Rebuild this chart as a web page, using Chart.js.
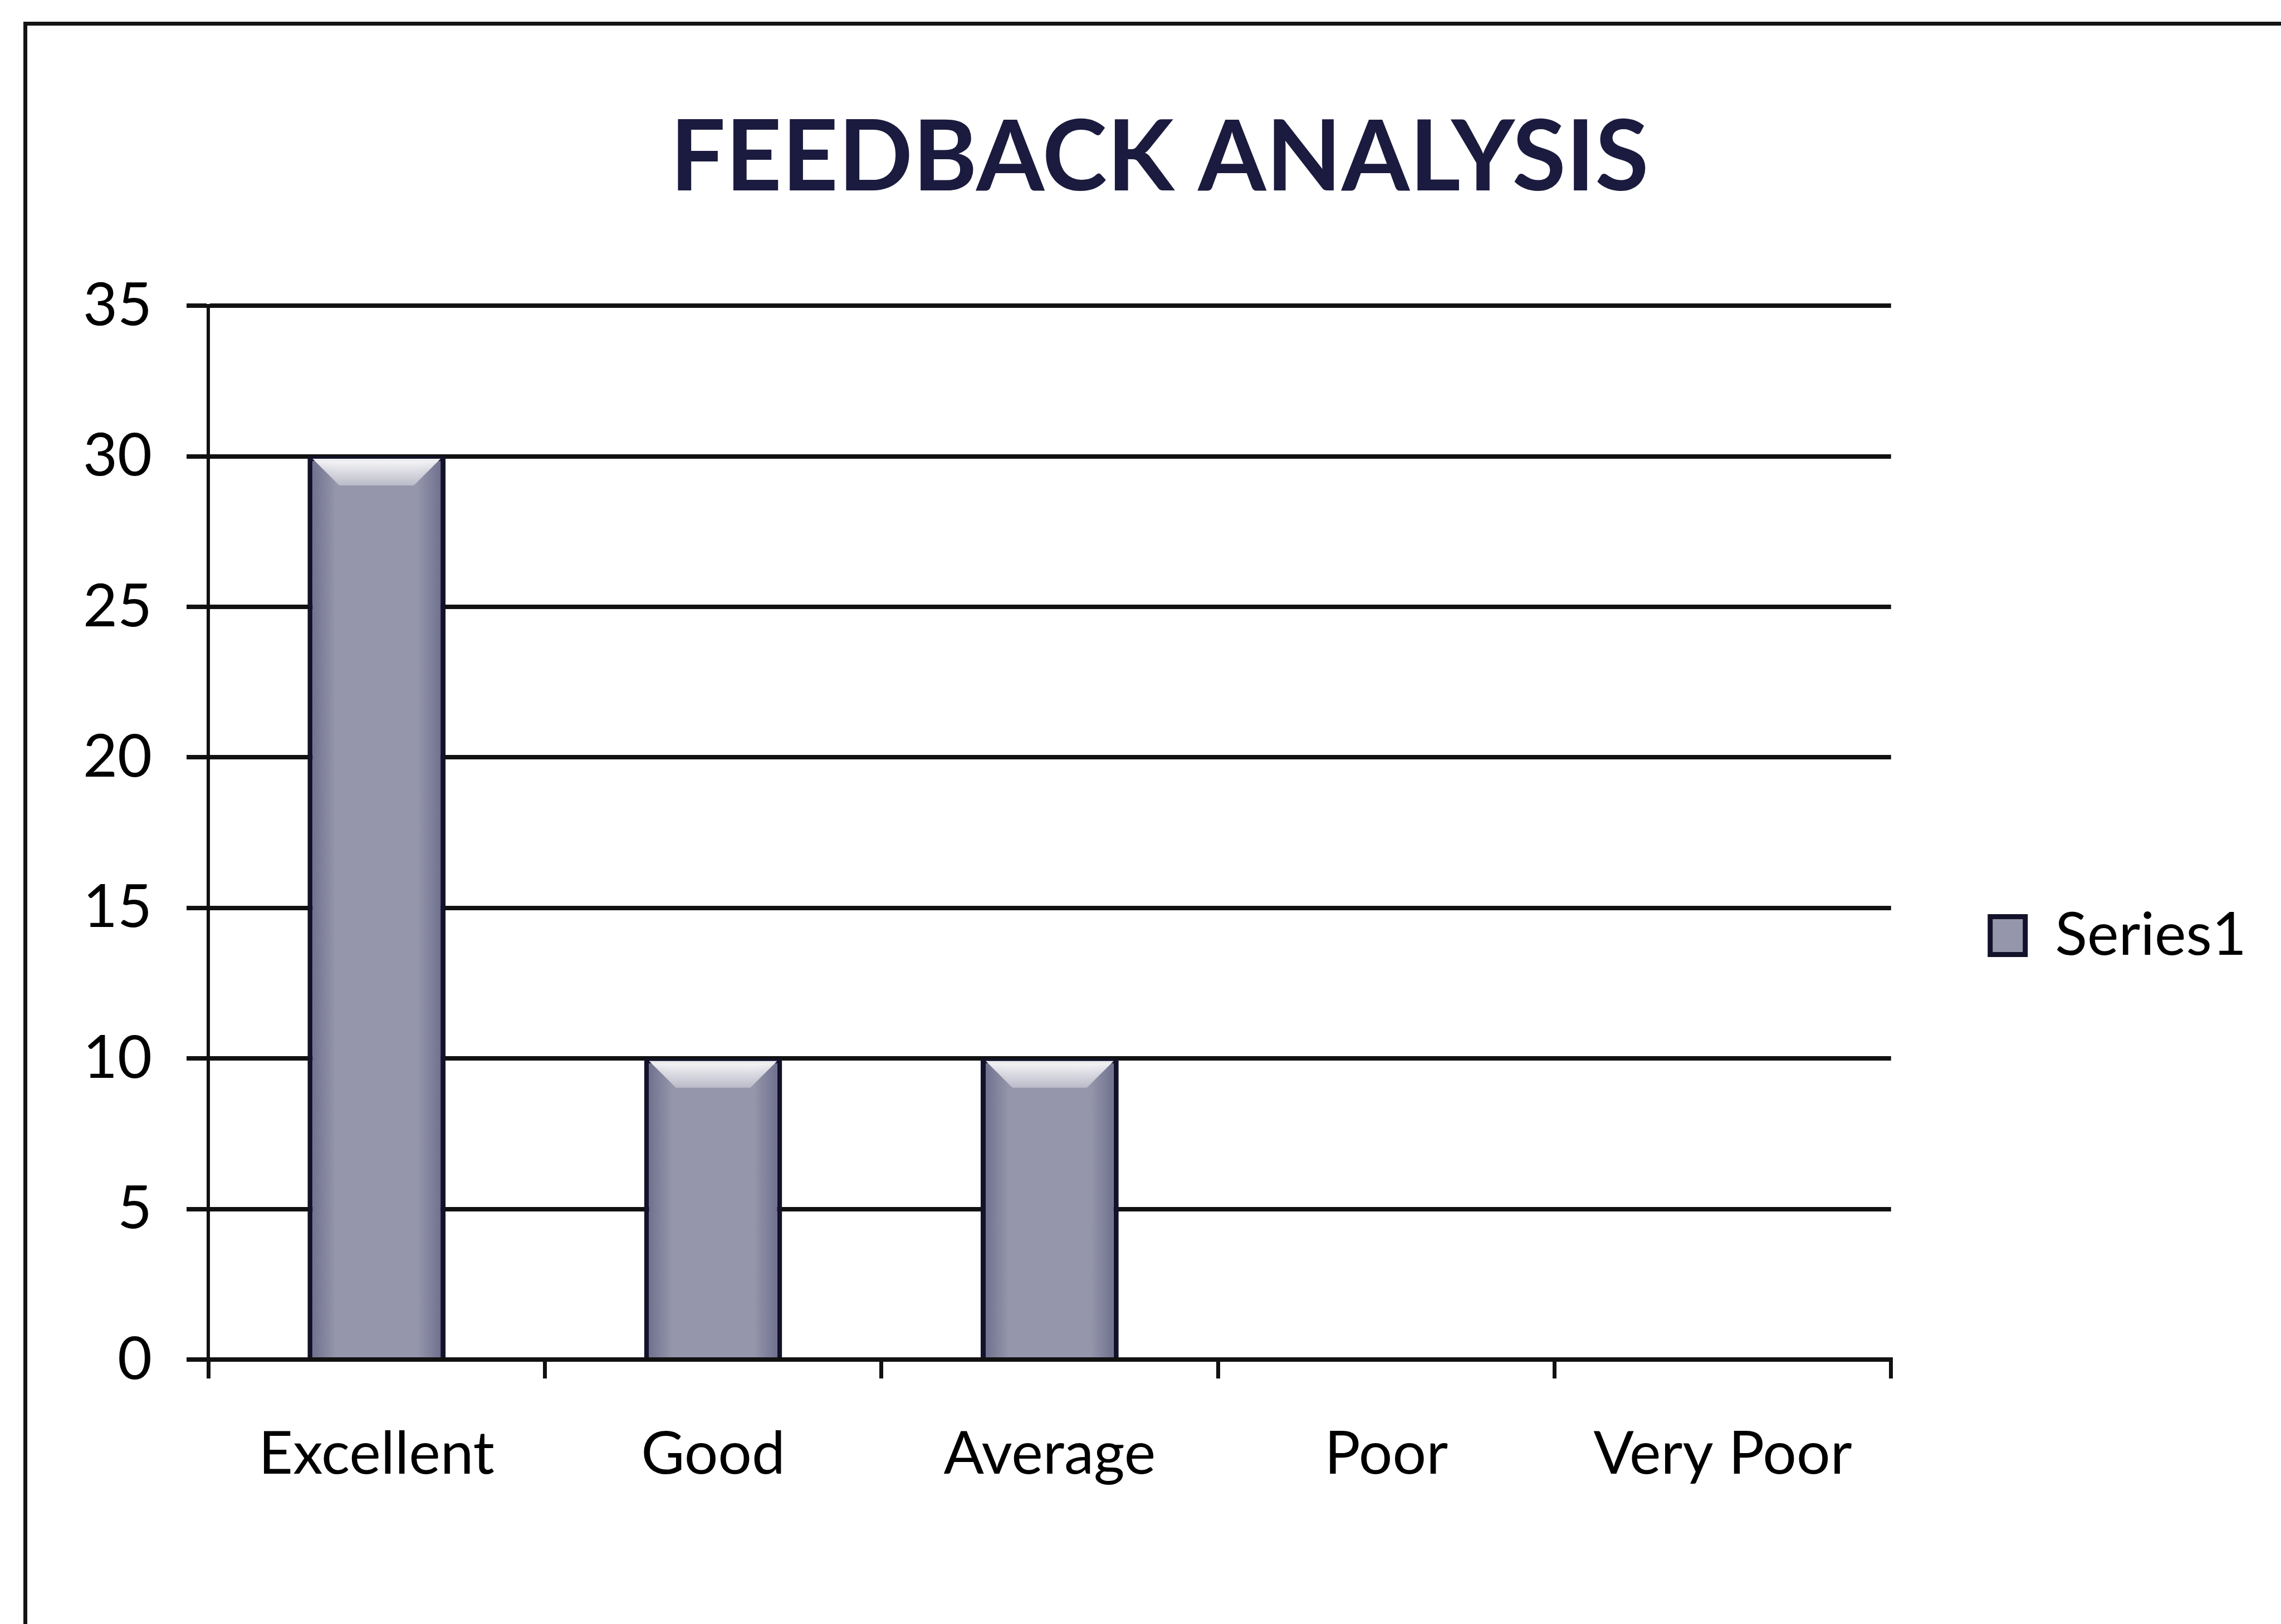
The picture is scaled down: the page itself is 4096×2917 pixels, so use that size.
<!DOCTYPE html>
<html>
<head>
<meta charset="utf-8">
<title>Feedback Analysis</title>
<script src="https://cdn.jsdelivr.net/npm/chart.js@4.4.1/dist/chart.umd.min.js"></script>
<style>
    html, body { margin: 0; padding: 0; background: #fff; overflow: hidden; }
    #wrap { position: relative; width: 4096px; height: 2917px; overflow: hidden; }
    #frame { position: absolute; left: 42px; top: 39px; width: 4200px; height: 2900px; border: 7px solid #141414; box-sizing: border-box; pointer-events: none; }
</style>
</head>
<body>
<div id="wrap">
    <canvas id="feedbackChart"></canvas>
    <div id="frame"></div>
</div>
<script>
// ===== FEEDBACK ANALYSIS CHART =====

const chartTitle = 'FEEDBACK ANALYSIS';
const categories = ['Excellent', 'Good', 'Average', 'Poor', 'Very Poor'];
const seriesName = 'Series1';
const series1 = [30, 10, 10, 0, 0];
const yRange = [0, 35];
const yStep = 5;

const labelFont = { family: 'Lato, "Open Sans", sans-serif', size: 107 };
const lineColor = '#111111';
const barBorder = 9;

// nudges the right-hand legend down to where the original sits
const legendOffset = {
    id: 'legendOffset',
    afterLayout(chart) {
        if (!chart.legend) return;
        chart.legend.top += 222;
        chart.legend.bottom += 222;
    }
};

// darker sides + light bevel on top of each bar (old Excel 3D look)
const barShading = {
    id: 'barShading',
    afterDatasetsDraw(chart) {
        const ctx = chart.ctx;
        ctx.save();
        chart.getDatasetMeta(0).data.forEach(bar => {
            const { x, y, base, width } = bar.getProps(['x', 'y', 'base', 'width'], true);
            if (base - y <= barBorder * 2) return;
            const left = x - width / 2 + barBorder;
            const right = x + width / 2 - barBorder;
            const top = y + barBorder / 2;

            const side = ctx.createLinearGradient(left, 0, right, 0);
            side.addColorStop(0, 'rgba(45,45,90,0.35)');
            side.addColorStop(0.18, 'rgba(45,45,90,0)');
            side.addColorStop(0.82, 'rgba(45,45,90,0)');
            side.addColorStop(1, 'rgba(45,45,90,0.35)');
            ctx.fillStyle = side;
            ctx.fillRect(left, top, right - left, base - top);

            const d = Math.min(48, (base - y) / 3);
            const hi = ctx.createLinearGradient(0, top, 0, top + d);
            hi.addColorStop(0, 'rgba(255,255,255,0.95)');
            hi.addColorStop(1, 'rgba(255,255,255,0.35)');
            ctx.fillStyle = hi;
            ctx.beginPath();
            ctx.moveTo(left, top);
            ctx.lineTo(right, top);
            ctx.lineTo(right - d, top + d);
            ctx.lineTo(left + d, top + d);
            ctx.closePath();
            ctx.fill();
        });
        ctx.restore();
    }
};

function initFeedbackChart() {
    const ctx = document.getElementById('feedbackChart');
    window.feedbackChart = new Chart(ctx, {
        type: 'bar',
        data: {
            labels: categories,
            datasets: [{
                label: seriesName,
                data: series1,
                backgroundColor: '#9596ab',
                borderColor: '#12122a',
                borderWidth: barBorder,
                categoryPercentage: 1,
                barPercentage: 0.41
            }]
        },
        options: {
            responsive: true,
            maintainAspectRatio: false,
            animation: false,
            layout: { padding: { left: 120, right: 52, top: 0, bottom: 0 } },
            plugins: {
                title: {
                    display: true,
                    text: chartTitle,
                    color: '#1b1b3f',
                    font: { family: 'Lato, sans-serif', size: 176, weight: 'bold', lineHeight: 1.2 },
                    padding: { top: 180, bottom: 158 }
                },
                legend: {
                    position: 'right',
                    labels: { color: '#000', font: labelFont, boxWidth: 63, boxHeight: 68, padding: 178 }
                },
                tooltip: { enabled: false }
            },
            scales: {
                x: {
                    grid: { drawOnChartArea: false, drawTicks: true, tickLength: 34, color: lineColor, lineWidth: 7, offset: true },
                    border: { display: true, color: lineColor, width: 8 },
                    ticks: { color: '#000', font: labelFont, padding: 72, maxRotation: 0, autoSkip: false },
                    afterFit(scale) { scale.height = 475; }
                },
                y: {
                    min: yRange[0],
                    max: yRange[1],
                    ticks: { stepSize: yStep, color: '#000', font: labelFont, padding: 62 },
                    grid: { color: lineColor, lineWidth: 8, tickLength: 39, drawTicks: true },
                    border: { display: true, color: lineColor, width: 6 },
                    afterFit(scale) { scale.width = 254; }
                }
            }
        },
        plugins: [legendOffset, barShading]
    });
}

document.addEventListener('DOMContentLoaded', initFeedbackChart);
</script>
</body>
</html>
